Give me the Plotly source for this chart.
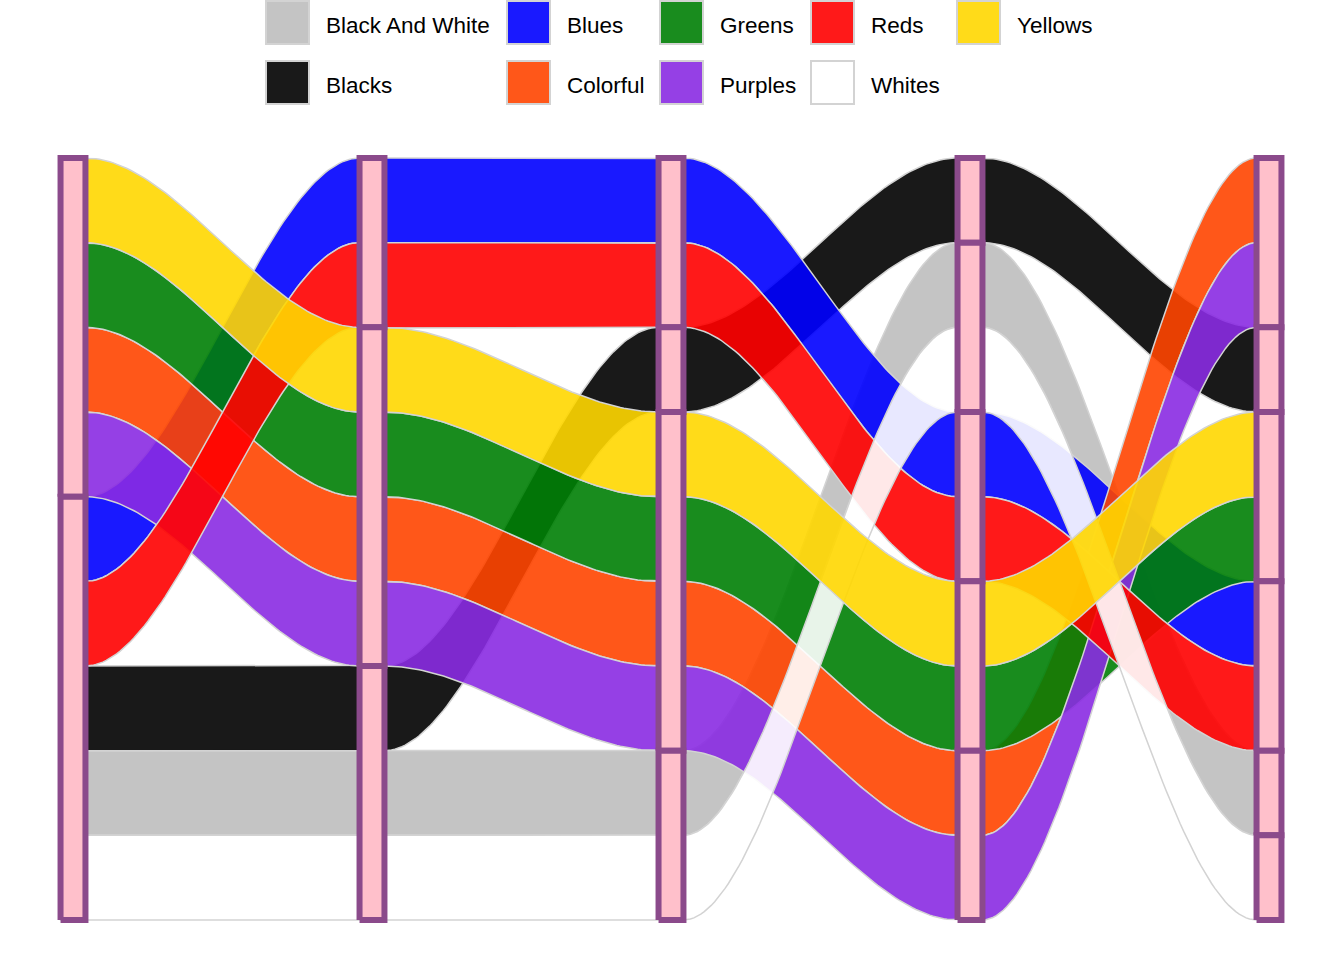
import numpy as np
import plotly.graph_objects as go

# ---------------- data ----------------
categories = ["Black And White", "Blacks", "Blues", "Colorful", "Greens",
              "Purples", "Reds", "Whites", "Yellows"]
freq = [1, 1, 1, 1, 1, 1, 1, 1, 1]
fill_colors = ["#BEBEBE", "#000000", "#0000FF", "#FF4500", "#007F05",
               "#8A2BE2", "#FF0000", "#FFFFFF", "#FFD700"]

axes_x = [1, 2, 3, 4, 5]
# vertical order of alluvia on each axis, top to bottom
axis_orders = [
    ["Yellows", "Greens", "Colorful", "Purples", "Blues", "Reds", "Blacks", "Black And White", "Whites"],
    ["Blues", "Reds", "Yellows", "Greens", "Colorful", "Purples", "Blacks", "Black And White", "Whites"],
    ["Blues", "Reds", "Blacks", "Yellows", "Greens", "Colorful", "Purples", "Black And White", "Whites"],
    ["Blacks", "Black And White", "Whites", "Blues", "Reds", "Yellows", "Greens", "Colorful", "Purples"],
    ["Colorful", "Purples", "Blacks", "Yellows", "Greens", "Blues", "Reds", "Black And White", "Whites"],
]
# number of alluvia in each stratum on each axis, top to bottom
strata_sizes = [
    [4, 5],
    [2, 4, 3],
    [2, 1, 4, 2],
    [1, 2, 2, 2, 2],
    [2, 1, 2, 2, 1, 1],
]

# ---------------- styling ----------------
ALPHA = 0.9
STRAT_W = 1 / 12
FONT = "Liberation Sans, Arial, sans-serif"
W, H = 1344, 960


def rgba(hexcol, a):
    h = hexcol.lstrip("#")
    r, g, b = int(h[0:2], 16), int(h[2:4], 16), int(h[4:6], 16)
    return f"rgba({r},{g},{b},{a})"


total = float(sum(freq))
weight = dict(zip(categories, freq))

# top / bottom of each alluvium at each axis
tops, bots = {}, {}
for order in axis_orders:
    cur = total
    for c in order:
        tops.setdefault(c, []).append(cur)
        bots.setdefault(c, []).append(cur - weight[c])
        cur -= weight[c]

t = np.linspace(0, 1, 80)
s = 3 * t ** 2 - 2 * t ** 3


def edge(vals):
    xs, ys = [], []
    for k in range(len(axes_x)):
        a = axes_x[k]
        xs += [a - STRAT_W / 2, a + STRAT_W / 2]
        ys += [vals[k], vals[k]]
        if k < len(axes_x) - 1:
            x0, x1 = a + STRAT_W / 2, axes_x[k + 1] - STRAT_W / 2
            xs += list(x0 + (x1 - x0) * t)
            ys += list(vals[k] + (vals[k + 1] - vals[k]) * s)
    return xs, ys


fig = go.Figure()

# flows (alluvia), drawn in alphabetical order
for i, c in enumerate(categories):
    xt, yt = edge(tops[c])
    xb, yb = edge(bots[c])
    xs = xt + xb[::-1] + [xt[0]]
    ys = yt + yb[::-1] + [yt[0]]
    fig.add_trace(go.Scatter(
        x=xs, y=ys, mode="lines", fill="toself",
        fillcolor=rgba(fill_colors[i], ALPHA),
        line=dict(color="#D3D3D3", width=1.5),
        name=c, showlegend=False, hoverinfo="name",
    ))

# strata boxes
for k, a in enumerate(axes_x):
    cur = total
    for n in strata_sizes[k]:
        top, bot = cur, cur - n
        cur = bot
        fig.add_trace(go.Scatter(
            x=[a - STRAT_W / 2, a + STRAT_W / 2, a + STRAT_W / 2, a - STRAT_W / 2, a - STRAT_W / 2],
            y=[bot, bot, top, top, bot],
            mode="lines", fill="toself", fillcolor="#FFC0CB",
            line=dict(color="#8B4A8B", width=6),
            showlegend=False, hoverinfo="skip",
        ))

# axis ranges so that axes land at the reference pixel positions
x_unit = (1269 - 73) / (axes_x[-1] - axes_x[0])
x_range = [axes_x[0] - 73 / x_unit, axes_x[0] + (W - 73) / x_unit]
y_unit = (920 - 158) / total
y_range = [0 - (H - 920) / y_unit, total + 158 / y_unit]

# ---------------- legend (2 rows, filled column-wise) ----------------
col_left_px = [266, 507, 660, 811, 957]
row_center_px = [22.5, 82.5]
SW = 43        # swatch size in px
TEXT_GAP = 61  # swatch left edge -> text start
n_rows = len(row_center_px)
shapes, annotations = [], []
for i, c in enumerate(categories):
    col, row = divmod(i, n_rows)
    x0 = col_left_px[col]
    yc = row_center_px[row]
    shapes.append(dict(
        type="rect", xref="paper", yref="paper",
        x0=x0 / W, x1=(x0 + SW) / W,
        y0=1 - (yc + SW / 2) / H, y1=1 - (yc - SW / 2) / H,
        fillcolor=rgba(fill_colors[i], ALPHA),
        line=dict(color="#D3D3D3", width=2), layer="above",
    ))
    annotations.append(dict(
        text=c, xref="paper", yref="paper",
        x=(x0 + TEXT_GAP - 3) / W, y=1 - (yc + 3) / H,
        xanchor="left", yanchor="middle", showarrow=False,
        font=dict(family=FONT, size=22.5, color="black"),
    ))

fig.update_layout(
    width=W, height=H,
    margin=dict(l=0, r=0, t=0, b=0),
    paper_bgcolor="white", plot_bgcolor="white",
    xaxis=dict(range=x_range, visible=False, fixedrange=True),
    yaxis=dict(range=y_range, visible=False, fixedrange=True),
    showlegend=False,
    shapes=shapes, annotations=annotations,
)

fig.write_html("out.html")
